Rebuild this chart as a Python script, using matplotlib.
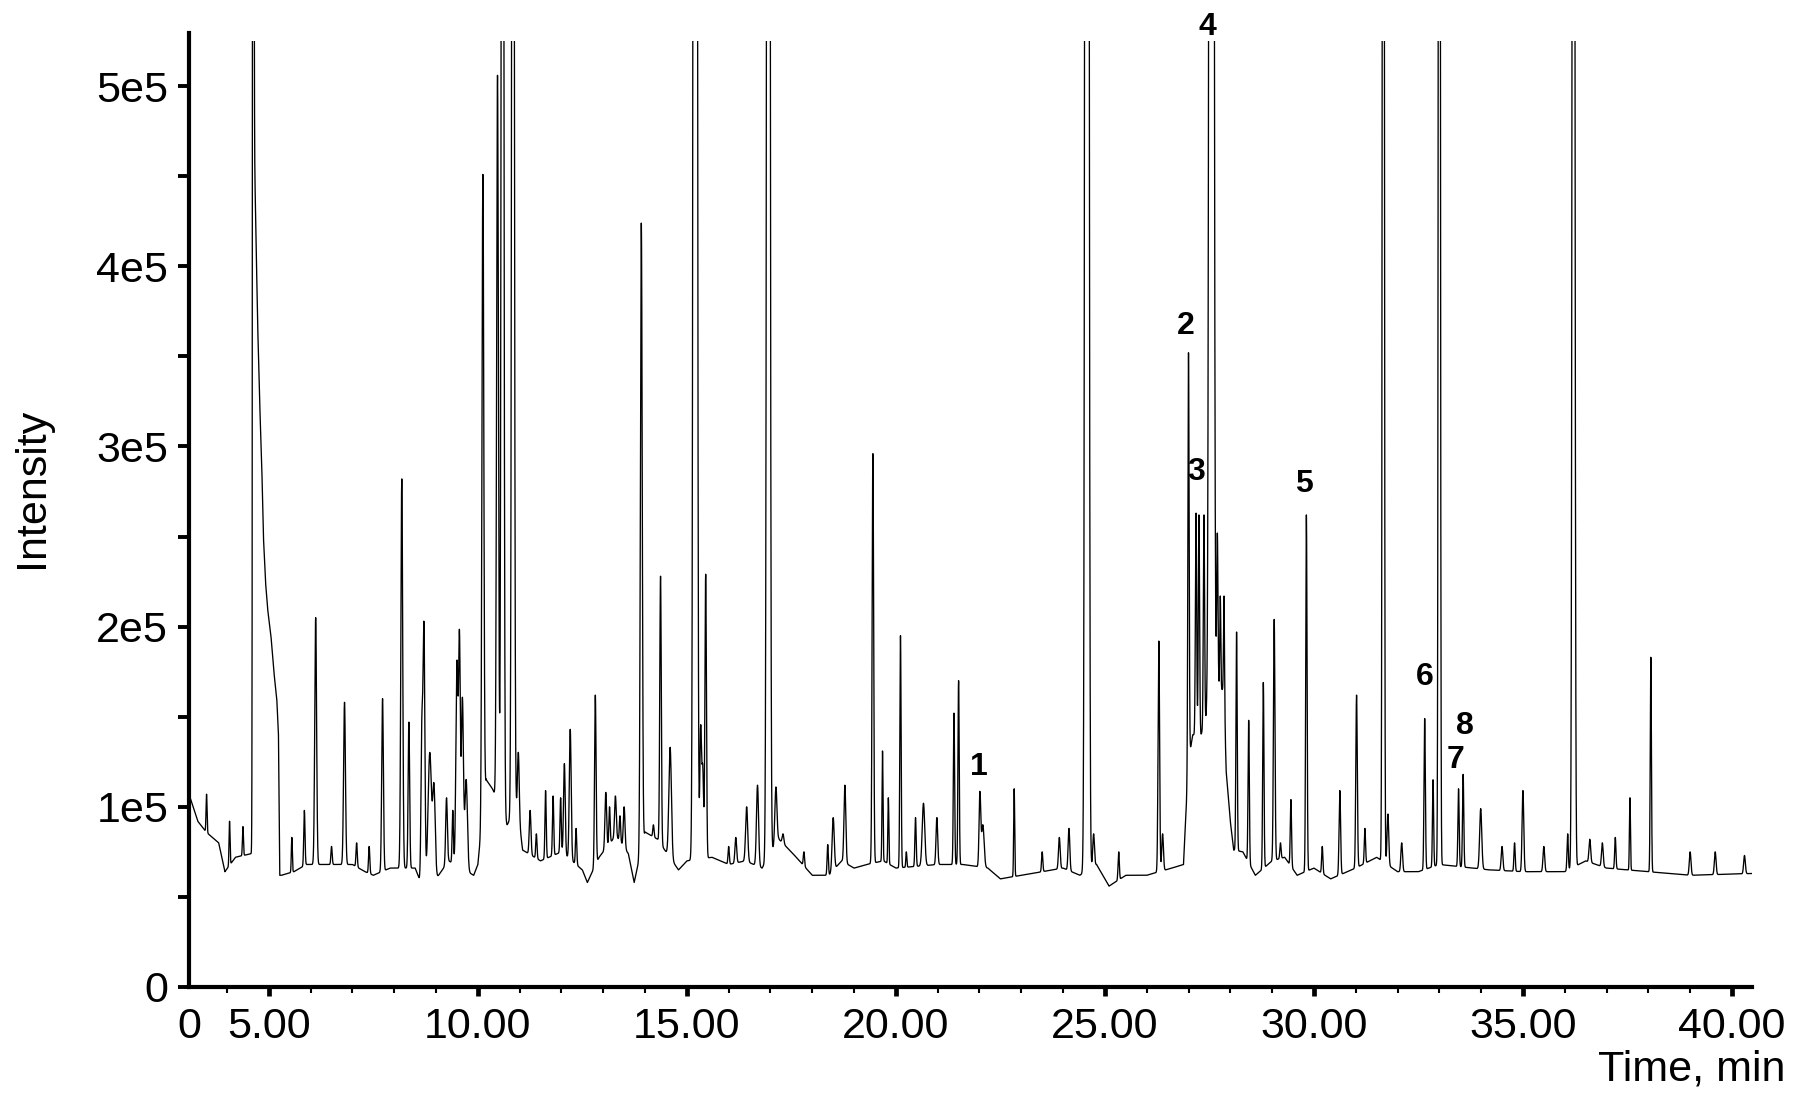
import numpy as np
import matplotlib
matplotlib.use('Agg')
import matplotlib.pyplot as plt
from matplotlib.patches import Rectangle
from matplotlib.ticker import FixedLocator, FixedFormatter

plt.rcParams['font.family'] = ['Liberation Sans', 'DejaVu Sans']

# ── baseline of the trace (time in min, intensity) ──
base_t = [3.09, 3.3, 3.5, 3.8, 3.95, 4.2, 4.58,
          4.60, 4.64, 4.69, 4.73, 4.78, 4.83, 4.87, 4.92, 4.97, 5.05, 5.12, 5.19, 5.23, 5.26,
          5.3, 5.6, 5.9, 6.5, 7.0, 7.3, 7.5, 7.9, 8.5, 8.6, 9.0, 9.3, 9.9, 10.0,
          10.2, 10.35, 10.7, 10.95, 11.07, 11.5, 12.0, 12.5, 12.62, 12.9, 13.3, 13.6,
          13.74, 14.0, 14.3, 14.5, 14.8, 15.0, 15.6, 16.0, 16.4, 16.8, 17.2, 17.5,
          18.0, 18.4, 18.7, 19.0, 19.3, 19.7, 20.0, 21.0, 21.6, 22.2, 22.5, 23.0,
          24.0, 24.4, 24.8, 25.1, 25.5, 26.0, 26.6, 26.88, 27.0, 27.1, 27.3, 27.45,
          27.7, 27.85, 27.9, 28.0, 28.08, 28.3, 28.6, 29.0, 29.3, 29.6, 30.0, 30.4,
          31.0, 31.5, 32.0, 32.5, 33.0, 33.8, 34.2, 35.0, 36.0, 36.5, 37.0, 38.0,
          39.0, 40.48]
base_i = [107e3, 92e3, 86e3, 80e3, 64e3, 72e3, 74e3,
          74e3, 480e3, 420e3, 370e3, 325e3, 290e3, 250e3, 225e3, 210e3, 195e3, 175e3, 160e3, 140e3, 62e3,
          62e3, 64e3, 68e3, 68e3, 68e3, 64e3, 62e3, 66e3, 66e3, 60e3, 60e3, 70e3, 62e3, 68e3,
          115e3, 110e3, 90e3, 100e3, 76e3, 70e3, 75e3, 65e3, 58e3, 72e3, 84e3, 74e3,
          58e3, 86e3, 82e3, 75e3, 65e3, 70e3, 72e3, 68e3, 70e3, 66e3, 82e3, 75e3,
          62e3, 62e3, 70e3, 66e3, 68e3, 70e3, 66e3, 68e3, 68e3, 66e3, 60e3, 62e3,
          66e3, 62e3, 68e3, 56e3, 62e3, 62e3, 66e3, 68e3, 125e3, 140e3, 140e3, 150e3,
          165e3, 165e3, 120e3, 92e3, 76e3, 75e3, 62e3, 70e3, 72e3, 62e3, 66e3, 60e3,
          66e3, 72e3, 64e3, 64e3, 68e3, 66e3, 65e3, 64e3, 64e3, 70e3, 66e3, 64e3,
          62e3, 63e3]

# ── peaks: retention time (min), apex intensity, width (sigma, min) ──
peak_t = [3.51, 4.06, 4.38, 4.625, 5.55, 5.85, 6.12, 6.5, 6.81, 7.1, 7.4, 7.72, 8.18, 8.35,
          8.66, 8.71, 8.85, 8.95, 9.25, 9.4, 9.5, 9.56, 9.63, 9.72,
          10.12, 10.47, 10.59, 10.84, 10.97, 11.25, 11.4, 11.62, 11.8, 11.98, 12.07, 12.21,
          12.35, 12.81, 13.06, 13.15, 13.29, 13.4, 13.5, 13.91, 14.2, 14.37, 14.6,
          15.2, 15.33, 15.38, 15.45, 16.0,
          16.17, 16.43, 16.69, 16.95, 17.13, 17.3, 17.8, 18.37, 18.5, 18.78, 19.45, 19.68, 19.82,
          20.11, 20.25, 20.47, 20.66, 20.98, 21.39, 21.5, 22.01, 22.08, 22.83, 23.5, 23.91, 24.14,
          24.57, 24.73, 25.33, 26.29, 26.38,
          27.0, 27.18, 27.25, 27.37, 27.55, 27.69, 27.76, 27.85, 28.15, 28.44, 28.79,
          29.05, 29.2, 29.45, 29.82, 30.2, 30.62, 31.02, 31.22, 31.66, 31.77, 32.1, 32.65, 32.85,
          33.0, 33.46, 33.57, 33.99, 34.5, 34.8, 35.0, 35.5, 36.07, 36.21, 36.6, 36.9, 37.21,
          37.56, 38.06, 39.0, 39.6, 40.3]
peak_i = [107e3, 92e3, 89e3, 1.5e6, 83e3, 98e3, 205e3, 78e3, 158e3, 80e3, 78e3, 160e3, 282e3, 147e3,
          140e3, 199e3, 130e3, 110e3, 105e3, 98e3, 180e3, 190e3, 160e3, 115e3,
          451e3, 506e3, 1.2e6, 1.2e6, 130e3, 98e3, 85e3, 109e3, 106e3, 105e3, 124e3, 143e3,
          88e3, 162e3, 108e3, 100e3, 106e3, 95e3, 100e3, 424e3, 90e3, 228e3, 133e3,
          3.0e6, 143e3, 120e3, 229e3, 78e3,
          83e3, 100e3, 112e3, 2.0e6, 111e3, 85e3, 75e3, 79e3, 94e3, 112e3, 296e3, 131e3, 105e3,
          195e3, 75e3, 94e3, 102e3, 94e3, 152e3, 170e3, 107e3, 90e3, 110e3, 75e3, 83e3, 88e3,
          3.0e6, 85e3, 75e3, 192e3, 85e3,
          352e3, 263e3, 262e3, 262e3, 3.0e6, 251e3, 217e3, 217e3, 197e3, 148e3, 169e3,
          204e3, 80e3, 104e3, 262e3, 78e3, 109e3, 162e3, 88e3, 1.5e6, 96e3, 80e3, 149e3, 115e3,
          1.5e6, 110e3, 118e3, 99e3, 78e3, 80e3, 109e3, 78e3, 85e3, 1.5e6, 82e3, 80e3, 83e3,
          105e3, 183e3, 75e3, 75e3, 73e3]
peak_w = [0.012, 0.012, 0.012, 0.012, 0.012, 0.015, 0.022, 0.015, 0.022, 0.015, 0.015, 0.02, 0.022, 0.018,
          0.02, 0.022, 0.04, 0.03, 0.02, 0.015, 0.025, 0.02, 0.025, 0.03,
          0.022, 0.022, 0.025, 0.025, 0.02, 0.02, 0.015, 0.015, 0.015, 0.015, 0.02, 0.022,
          0.015, 0.018, 0.02, 0.015, 0.02, 0.015, 0.02, 0.022, 0.015, 0.018, 0.03,
          0.03, 0.02, 0.02, 0.018, 0.015,
          0.02, 0.025, 0.025, 0.028, 0.025, 0.02, 0.015, 0.015, 0.025, 0.022, 0.018, 0.012, 0.012,
          0.015, 0.012, 0.015, 0.03, 0.02, 0.015, 0.015, 0.02, 0.03, 0.012, 0.015, 0.02, 0.02,
          0.03, 0.02, 0.015, 0.018, 0.02,
          0.015, 0.015, 0.015, 0.015, 0.035, 0.015, 0.012, 0.012, 0.015, 0.015, 0.015,
          0.018, 0.015, 0.015, 0.016, 0.015, 0.018, 0.018, 0.015, 0.018, 0.02, 0.02, 0.016, 0.014,
          0.018, 0.015, 0.015, 0.025, 0.02, 0.015, 0.02, 0.02, 0.015, 0.024, 0.02, 0.02, 0.015,
          0.012, 0.014, 0.02, 0.02, 0.02]

# numbered compounds
label_txt = ['1', '2', '3', '4', '5', '6', '7', '8']
label_t = [21.99, 26.94, 27.18, 27.44, 29.76, 32.64, 33.38, 33.62]
label_i = [122e3, 367e3, 286e3, 533e3, 279e3, 172e3, 126e3, 145e3]

X0, X1 = 3.09, 40.48
Y1 = 529.5e3
CLIP = 525e3   # detector trace is cut off a bit below the axis top

# ── build trace ──
t = np.arange(X0, X1, 0.002)
sig = np.interp(t, base_t, base_i)
for pt, pi, pw in zip(peak_t, peak_i, peak_w):
    amp = max(pi - np.interp(pt, base_t, base_i), 0)
    sig += amp * np.exp(-0.5 * ((t - pt) / pw) ** 2)

fig = plt.figure(figsize=(18, 11.07), dpi=100)
ax = fig.add_axes([189 / 1800, 1 - 987 / 1107, (1752 - 189) / 1800, (987 - 33) / 1107])

line, = ax.plot(t, sig, color='black', lw=0.95)
# open-topped peaks: clip the line rather than the data
line.set_clip_path(Rectangle((X0, 0), X1 - X0, CLIP, transform=ax.transData))

for s in ['top', 'right']:
    ax.spines[s].set_visible(False)
for s in ['left', 'bottom']:
    ax.spines[s].set_linewidth(3)

ax.set_xlim(X0, X1)
ax.set_ylim(0, Y1)

xt = [X0, 5, 10, 15, 20, 25, 30, 35, 40]
xl = ['0', '5.00', '10.00', '15.00', '20.00', '25.00', '30.00', '35.00', '40.00']
ax.xaxis.set_major_locator(FixedLocator(xt))
ax.xaxis.set_major_formatter(FixedFormatter(xl))
ax.xaxis.set_minor_locator(FixedLocator([m for m in range(4, 41) if m % 5 != 0]))
ax.yaxis.set_major_locator(FixedLocator([0, 1e5, 2e5, 3e5, 4e5, 5e5]))
ax.yaxis.set_major_formatter(FixedFormatter(['0', '1e5', '2e5', '3e5', '4e5', '5e5']))
ax.yaxis.set_minor_locator(FixedLocator([0.5e5, 1.5e5, 2.5e5, 3.5e5, 4.5e5]))

ax.tick_params(axis='x', which='major', length=6.5, width=3.4, pad=8, labelsize=31)
ax.tick_params(axis='x', which='minor', length=4.3, width=1.5)
ax.tick_params(axis='y', which='both', length=8, width=2.8, pad=7, labelsize=31)
ax.xaxis.get_major_ticks()[0].tick1line.set_visible(False)

ax.set_ylabel('Intensity', fontsize=31)
ax.yaxis.set_label_coords(-0.0875, 0.523)
fig.text(1785 / 1800, 1 - 1070 / 1107, 'Time, min', fontsize=31, ha='right', va='center')

for txt, lt, li in zip(label_txt, label_t, label_i):
    ax.text(lt, li, txt, fontsize=23, fontweight='bold', ha='center', va='center', clip_on=False)

fig.savefig('out.png', dpi=100, facecolor='white')
